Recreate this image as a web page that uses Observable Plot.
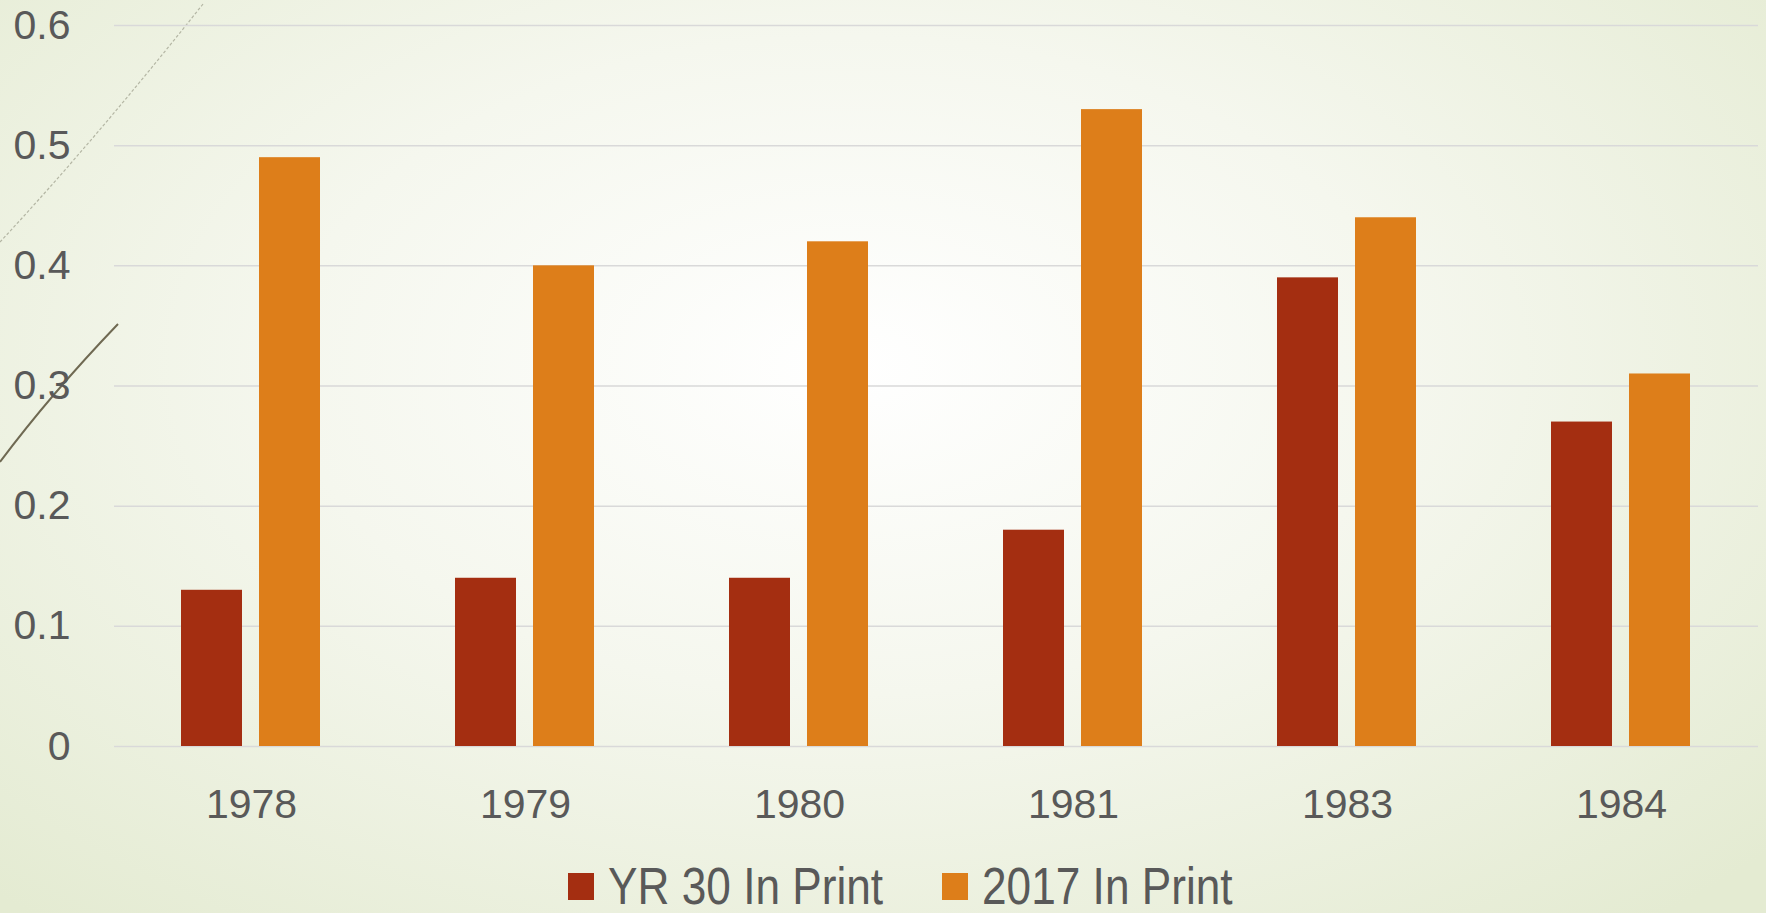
<!DOCTYPE html>
<html>
<head>
<meta charset="utf-8">
<script src="https://cdn.jsdelivr.net/npm/d3@7"></script>
<script src="https://cdn.jsdelivr.net/npm/@observablehq/plot@0.6"></script>
<style>
  html, body { margin: 0; padding: 0; width: 1766px; height: 913px; overflow: hidden; }
  body {
    position: relative;
    background: radial-gradient(ellipse 70% 80% at 48% 40%, #ffffff 0%, #f5f7ee 45%, #e4ebd2 100%);
    font-family: "Liberation Sans", sans-serif;
  }
  #deco { position: absolute; left: 0; top: 0; pointer-events: none; }
  #chart { position: relative; }
  #legend {
    position: relative;
    display: flex; justify-content: center; align-items: center;
    height: 56px; padding-top: 8px; margin-left: 34px;
    font-family: "Liberation Sans", sans-serif;
    font-size: 52px; line-height: 1; color: #595959; white-space: nowrap;
  }
  .item { display: flex; align-items: center; }
  .item + .item { margin-left: 59px; }
  .sw { width: 26px; height: 27px; margin-right: 14px; }
  .lbl { display: inline-block; transform-origin: left center; line-height: 1; }
</style>
</head>
<body>
<svg id="deco" width="1766" height="913">
  <path d="M0,242 Q95,140 203,4" fill="none" stroke="#b4b6a4" stroke-width="1.2" stroke-dasharray="3,2"/>
  <path d="M0,462 Q50,395 118,324" fill="none" stroke="#6f6952" stroke-width="2"/>
</svg>
<div id="chart"></div>
<div id="legend"></div>
<script>
const years = ["1978", "1979", "1980", "1981", "1983", "1984"];
const seriesNames = ["YR 30 In Print", "2017 In Print"];
const yr30InPrint = [0.13, 0.14, 0.14, 0.18, 0.39, 0.27];
const in2017InPrint = [0.49, 0.40, 0.42, 0.53, 0.44, 0.31];
const seriesColors = ["#A42E11", "#DD7E1A"];
const yTicks = [0, 0.1, 0.2, 0.3, 0.4, 0.5, 0.6];

const data = years.flatMap((yr, i) => [
  {year: yr, series: seriesNames[0], value: yr30InPrint[i]},
  {year: yr, series: seriesNames[1], value: in2017InPrint[i]}
]);

const chart = Plot.plot({
  width: 1766,
  height: 850,
  marginLeft: 111,
  marginRight: 6,
  marginTop: 25,
  marginBottom: 104,
  style: {background: "transparent", fontFamily: "Liberation Sans, sans-serif", overflow: "visible"},
  fx: {domain: years, padding: 0, label: null},
  x: {domain: seriesNames, paddingInner: 0.215, paddingOuter: 0.847, axis: null},
  y: {domain: [0, 0.6], label: null},
  color: {domain: seriesNames, range: seriesColors},
  marks: [
    Plot.gridY(yTicks, {stroke: "#d9d9d9", strokeOpacity: 1, strokeWidth: 1.5}),
    Plot.axisY(yTicks, {tickSize: 0, tickPadding: 44, tickFormat: d => String(d), fontSize: 41, fill: "#595959", label: null}),
    Plot.axisFx({anchor: "bottom", tickSize: 0, tickPadding: 42, fontSize: 41, fill: "#595959", label: null}),
    Plot.barY(data, {fx: "year", x: "series", y: "value", fill: "series"})
  ]
});
document.getElementById("chart").appendChild(chart);

const legend = document.getElementById("legend");
const labels = [];
seriesNames.forEach((name, i) => {
  const item = document.createElement("div");
  item.className = "item";
  const sw = document.createElement("div");
  sw.className = "sw";
  sw.style.background = seriesColors[i];
  const label = document.createElement("span");
  label.className = "lbl";
  label.textContent = name;
  item.appendChild(sw);
  item.appendChild(label);
  legend.appendChild(item);
  labels.push(label);
});
labels.forEach(label => {
  const w = label.getBoundingClientRect().width;
  label.style.transform = "scaleX(0.85)";
  label.style.marginRight = (-w * 0.15) + "px";
});
</script>
</body>
</html>
